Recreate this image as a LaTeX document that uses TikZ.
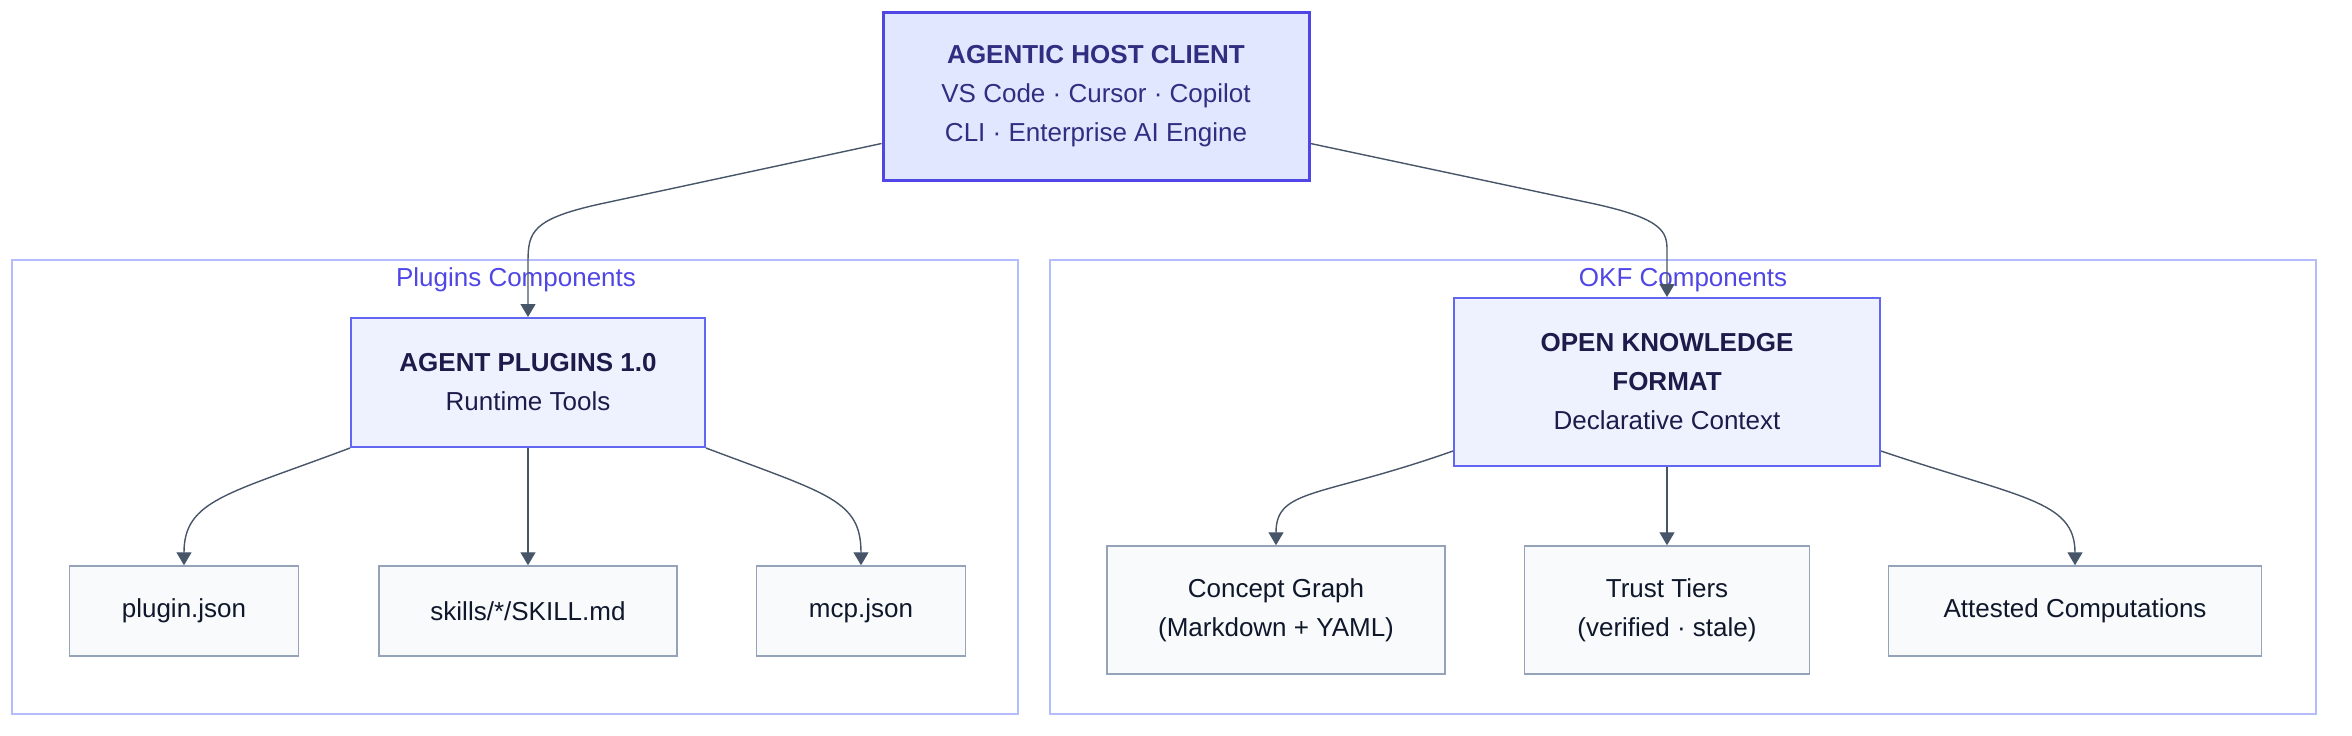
\documentclass[tikz,border=0pt]{standalone}
\usepackage{fontspec}
\setmainfont{Liberation Sans}
\usetikzlibrary{positioning,arrows.meta}

\definecolor{hostfill}{HTML}{E0E7FF}
\definecolor{hostdraw}{HTML}{4F46E5}
\definecolor{hosttext}{HTML}{312E81}
\definecolor{corefill}{HTML}{EEF2FF}
\definecolor{coredraw}{HTML}{6366F1}
\definecolor{coretext}{HTML}{1E1B4B}
\definecolor{leaffill}{HTML}{F8FAFC}
\definecolor{leafdraw}{HTML}{94A3B8}
\definecolor{leaftext}{HTML}{0F172A}
\definecolor{groupdraw}{HTML}{B4BCFC}
\definecolor{grouptext}{HTML}{4F46E5}
\definecolor{edgecolor}{HTML}{475569}

\begin{document}
\begin{tikzpicture}
[
	x=0.5pt,y=-0.5pt,
	every node/.style={font=\fontsize{13}{19.5}\selectfont,align=center,inner sep=0pt},
	hostbox/.style={draw=hostdraw,fill=hostfill,text=hosttext,line width=1.5pt,minimum width=213pt,minimum height=84pt},
	corebox/.style={draw=coredraw,fill=corefill,text=coretext,line width=1pt,minimum height=64.5pt},
	leafbox/.style={draw=leafdraw,fill=leaffill,text=leaftext,line width=0.75pt,minimum height=45pt},
	groupbox/.style={draw=groupdraw,line width=0.75pt},
	grouplabel/.style={text=grouptext},
	edge/.style={draw=edgecolor,line width=0.7pt,-{Triangle[width=7.5pt,length=6.5pt]}}
]

	\useasboundingbox (0,0) rectangle (2352,735);

	% groups
	\draw[groupbox] (12,260) rectangle (1018,714);
	\draw[groupbox] (1050,260) rectangle (2316,714);
	\node[grouplabel] at (516,280) (pluglabel) {Plugins Components};
	\node[grouplabel] at (1683,280) (okflabel) {OKF Components};

	% top
	\node[hostbox] at (1096,96) (host) {\textbf{AGENTIC HOST CLIENT}\\VS Code · Cursor · Copilot\\CLI · Enterprise AI Engine};

	% second level
	\node[corebox,minimum width=177pt] at (528,382.5) (plug) {\textbf{AGENT PLUGINS 1.0}\\Runtime Tools};
	\node[corebox,minimum width=213pt,minimum height=84pt] at (1667,382) (okf) {\textbf{OPEN KNOWLEDGE}\\\textbf{FORMAT}\\Declarative Context};

	% leaves
	\node[leafbox,minimum width=114.5pt] at (184,611) (pluginjson) {plugin.json};
	\node[leafbox,minimum width=149pt] at (528,611) (skills) {skills/*/SKILL.md};
	\node[leafbox,minimum width=104.5pt] at (861,611) (mcpjson) {mcp.json};
	\node[leafbox,minimum width=169pt,minimum height=64pt] at (1276,610) (concept) {Concept Graph\\(Markdown + YAML)};
	\node[leafbox,minimum width=142.5pt,minimum height=64pt] at (1667,610) (trust) {Trust Tiers\\(verified · stale)};
	\node[leafbox,minimum width=186.5pt] at (2075,611) (attested) {Attested Computations};

	% edges
	\draw[edge] ([yshift=19pt]host.south west) -- (600,204) .. controls (532,219) and (528,232) .. (528,262) -- (plug.north);
	\draw[edge] ([yshift=19pt]host.south east) -- (1595,204) .. controls (1663,219) and (1667,232) .. (1667,250) -- (okf.north);
	\draw[edge] (plug.south west) .. controls (228,494) and (184,500) .. (pluginjson.north);
	\draw[edge] (plug.south) -- (skills.north);
	\draw[edge] (plug.south east) .. controls (828,494) and (861,500) .. (mcpjson.north);
	\draw[edge] ([yshift=8pt]okf.south west) .. controls (1320,498) and (1276,488) .. (concept.north);
	\draw[edge] (okf.south) -- (trust.north);
	\draw[edge] ([yshift=8pt]okf.south east) .. controls (2020,498) and (2075,500) .. (attested.north);

\end{tikzpicture}
\end{document}
